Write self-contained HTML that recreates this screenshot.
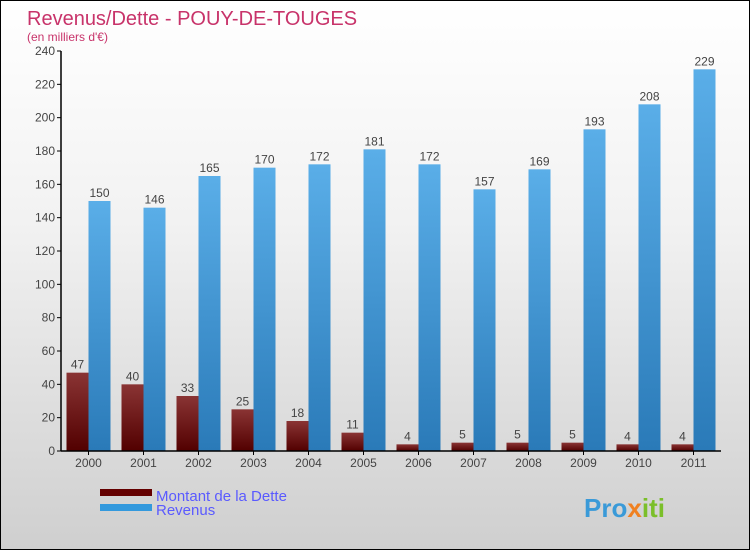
<!DOCTYPE html>
<html><head><meta charset="utf-8"><style>
body{margin:0}
#wrap{width:750px;height:550px;position:relative;box-sizing:border-box;border:1px solid #000;background:linear-gradient(#fff,#f2f2f2 40%,#cfcfcf);font-family:"Liberation Sans",sans-serif;overflow:hidden}
</style></head><body>
<div id="wrap">
<svg id="c" width="748" height="548" style="position:absolute;left:0;top:0">
<defs>
<linearGradient id="gd" x1="0" y1="0" x2="0" y2="1"><stop offset="0" stop-color="#8a3434"/><stop offset="1" stop-color="#520000"/></linearGradient>
<linearGradient id="gr" x1="0" y1="0" x2="0" y2="1"><stop offset="0" stop-color="#5aaee8"/><stop offset="1" stop-color="#2a7ab8"/></linearGradient>
</defs>
<text x="26" y="24" font-size="20" fill="#c8336a">Revenus/Dette - POUY-DE-TOUGES</text>
<text x="26" y="40" font-size="12" fill="#c8336a">(en milliers d'€)</text>
<g id="g"></g>
<rect x="99" y="488" width="52" height="7" fill="#640000"/>
<rect x="99" y="503" width="52" height="7" fill="#3399dd"/>
<text x="155" y="500" font-size="15" fill="#5a5aff">Montant de la Dette</text>
<text x="155" y="514" font-size="15" fill="#5a5aff">Revenus</text>
<text x="583" y="516" font-size="26" font-weight="bold" fill="#3a9ad8">Pro<tspan fill="#f08020">x</tspan><tspan fill="#7bbf2a">iti</tspan></text>
</svg>
</div>
<script>
const years=["2000","2001","2002","2003","2004","2005","2006","2007","2008","2009","2010","2011"];
const dette=[47,40,33,25,18,11,4,5,5,5,4,4];
const revenus=[150,146,165,170,172,181,172,157,169,193,208,229];
const ticks=[0,20,40,60,80,100,120,140,160,180,200,220,240];
const NS="http://www.w3.org/2000/svg";
const g=document.getElementById('g');
const x0=60,x1=720,y0=450,y1=50,max=240;
const y=v=>y0-(v/max)*(y0-y1);
const bw=(x1-x0)/years.length;
function mk(t,a,txt){const e=document.createElementNS(NS,t);for(const k in a)e.setAttribute(k,a[k]);if(txt!=null)e.textContent=txt;g.appendChild(e);return e;}
ticks.forEach(t=>{
 const l=mk('line',{x1:x0-4,x2:x0,y1:y(t),y2:y(t),stroke:'#000'});
 
 
 const tx=mk('text',{x:x0-6,y:y(t)+4,'font-size':12,'text-anchor':'end',fill:'#444'},t);
 
 
});
years.forEach((yr,i)=>{
 const gx=x0+i*bw;
 const dx=gx+5.5,rx=gx+27.5,w=22;
 const b1=mk('rect',{x:dx,y:y(dette[i]),width:w,height:y0-y(dette[i]),fill:'url(#gd)'});
 
 
 const b2=mk('rect',{x:rx,y:y(revenus[i]),width:w,height:y0-y(revenus[i]),fill:'url(#gr)'});
 
 
 const t1=mk('text',{x:dx+w/2,y:y(dette[i])-4,'font-size':12,'text-anchor':'middle',fill:'#444'},dette[i]);
 
 
 const t2=mk('text',{x:rx+w/2,y:y(revenus[i])-4,'font-size':12,'text-anchor':'middle',fill:'#444'},revenus[i]);
 
 
 const tk=mk('line',{x1:gx+bw/2,x2:gx+bw/2,y1:y0,y2:y0+4,stroke:'#000'});
 
 
 const xl=mk('text',{x:gx+bw/2,y:y0+16,'font-size':12,'text-anchor':'middle',fill:'#444'},yr);
 
 
});
const ya=mk('line',{x1:x0,x2:x0,y1:y1,y2:y0,stroke:'#000','stroke-width':1.5});


const xa=mk('line',{x1:x0,x2:x1,y1:y0,y2:y0,stroke:'#000','stroke-width':1.5});


</script>
</body></html>
